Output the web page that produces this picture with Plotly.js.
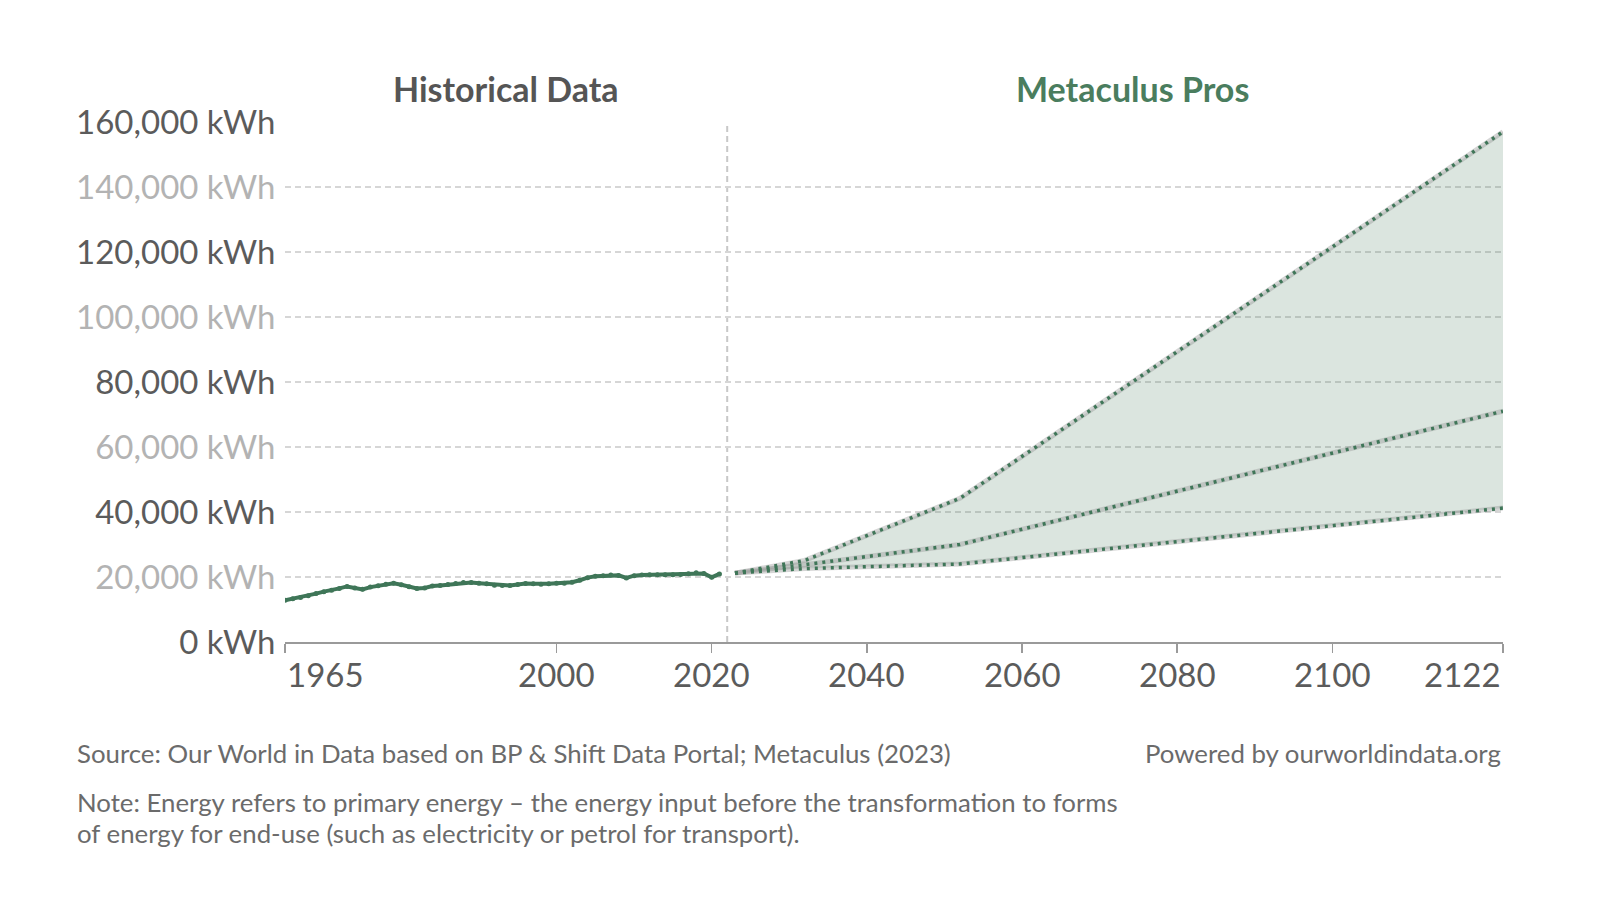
<!DOCTYPE html>
<html>
<head>
<meta charset="utf-8">
<script src="https://cdn.plot.ly/plotly-3.0.1.min.js"></script>
<style>
html,body{margin:0;padding:0;background:#fff;}
#chart{width:1600px;height:909px;}
</style>
</head>
<body>
<div id="chart"></div>
<script>
// ---- Data ----
const histYears = [1965,1966,1967,1968,1969,1970,1971,1972,1973,1974,1975,1976,1977,1978,1979,1980,1981,1982,1983,1984,1985,1986,1987,1988,1989,1990,1991,1992,1993,1994,1995,1996,1997,1998,1999,2000,2001,2002,2003,2004,2005,2006,2007,2008,2009,2010,2011,2012,2013,2014,2015,2016,2017,2018,2019,2020,2021];
const histValues = [12820,13300,13700,14200,14900,15500,15900,16500,17100,16600,16200,16900,17300,17800,18100,17600,17000,16500,16600,17200,17400,17700,18000,18300,18300,18100,17900,17500,17400,17400,17700,18000,17900,17800,17900,18100,18100,18400,19000,19800,20200,20400,20600,20500,19700,20400,20600,20700,20700,20700,20700,20800,21000,21300,21100,19900,20950];

const projYears = [2023, 2032, 2052, 2122];
const projUpper = [21200, 25100, 44200, 157000];
const projMedian = [21200, 23800, 30000, 71000];
const projLower = [21200, 22600, 24000, 41200];

const yTickVals = [0,20000,40000,60000,80000,100000,120000,140000,160000];
const yTickLabels = ["0 kWh","20,000 kWh","40,000 kWh","60,000 kWh","80,000 kWh","100,000 kWh","120,000 kWh","140,000 kWh","160,000 kWh"];
const xTickVals = [1965,2000,2020,2040,2060,2080,2100,2122];
const xTickLabels = ["1965","2000","2020","2040","2060","2080","2100","2122"];
const forecastStart = 2022;

// ---- Styles ----
const green = "#3f7658";
const halo = "rgba(150,150,150,0.4)";
const darkText = "#5b5b5b";
const lightText = "#b3b3b3";

const yTickText = yTickLabels.map((t,i)=>{
  const c = (i % 2 === 0) ? darkText : lightText;
  return '<span style="color:' + c + '">' + t + '</span>';
});

const dotDash = "3px,5px";
const traces = [
  {x: projYears, y: projLower, mode:"lines", line:{color:halo, width:5}, hoverinfo:"skip", showlegend:false},
  {x: projYears, y: projUpper, mode:"lines", fill:"tonexty", fillcolor:"rgba(74,125,95,0.2)", line:{color:halo, width:5}, hoverinfo:"skip", showlegend:false},
  {x: projYears, y: projMedian, mode:"lines", line:{color:halo, width:5}, hoverinfo:"skip", showlegend:false},
  {x: projYears, y: projLower, mode:"lines", line:{color:green, width:3.5, dash:dotDash}, showlegend:false},
  {x: projYears, y: projMedian, mode:"lines", line:{color:green, width:3.5, dash:dotDash}, showlegend:false},
  {x: projYears, y: projUpper, mode:"lines", line:{color:green, width:3.5, dash:dotDash}, showlegend:false},
  {x: histYears, y: histValues, mode:"lines+markers", line:{color:green, width:4, shape:"linear"},
   marker:{color:green, size:5}, showlegend:false}
];

const annotations = xTickVals.map((v,i)=>({
  x: v, xref:"x", y: 0, yref:"paper", yanchor:"top",
  xanchor: i === 0 ? "left" : (i === xTickVals.length-1 ? "right" : "center"),
  yshift: -10, showarrow:false, text: xTickLabels[i],
  font:{family:"Lato", size:33, color:darkText}
}));

const W = 1600, H = 909, mL = 285, mR = 97, mT = 122, mB = 267;
const plotH = H - mT - mB;
function py(pix){ return (H - mB - pix) / plotH; } // pixel y -> paper y
function px(pix){ return (pix - mL) / (W - mL - mR); }

annotations.push(
  {x: 1993.5, xref:"x", y: py(88), yref:"paper", yanchor:"middle", xanchor:"center", showarrow:false,
   text:"<b>Historical Data</b>", font:{family:"Lato", size:34, color:"#555555"}},
  {x: 2074.2, xref:"x", y: py(88), yref:"paper", yanchor:"middle", xanchor:"center", showarrow:false,
   text:"<b>Metaculus Pros</b>", font:{family:"Lato", size:34, color:"#4a7d5e"}}
);

const footSize = 25.8;
annotations.push(
  {x: px(75), xref:"paper", y: py(753), yref:"paper", xanchor:"left", yanchor:"middle", showarrow:false,
   text:"Source: Our World in Data based on BP &amp; Shift Data Portal; Metaculus (2023)",
   font:{family:"Lato", size:footSize, color:"#6b6b6b"}},
  {x: px(1503), xref:"paper", y: py(753), yref:"paper", xanchor:"right", yanchor:"middle", showarrow:false,
   text:"Powered by ourworldindata.org",
   font:{family:"Lato", size:footSize, color:"#6b6b6b"}},
  {x: px(75), xref:"paper", y: py(802), yref:"paper", xanchor:"left", yanchor:"middle", showarrow:false,
   text:"Note: Energy refers to primary energy – the energy input before the transformation to forms",
   font:{family:"Lato", size:footSize, color:"#6b6b6b"}},
  {x: px(75), xref:"paper", y: py(833), yref:"paper", xanchor:"left", yanchor:"middle", showarrow:false,
   text:"of energy for end-use (such as electricity or petrol for transport).",
   font:{family:"Lato", size:footSize, color:"#6b6b6b"}}
);

const layout = {
  width: W, height: H,
  margin:{l:mL, r:mR, t:mT, b:mB, pad:0},
  paper_bgcolor:"#ffffff", plot_bgcolor:"#ffffff",
  font:{family:"Lato", color:darkText},
  showlegend:false,
  xaxis:{
    range:[1965,2122], tickvals:xTickVals, ticktext:xTickVals.map(()=>""),
    showticklabels:false, ticks:"outside", ticklen:9, tickwidth:1.5, tickcolor:"#9a9a9a",
    showgrid:false, zeroline:false, showline:true, linecolor:"#9a9a9a", linewidth:2,
    fixedrange:true
  },
  yaxis:{
    range:[0,160000], tickvals:yTickVals, ticktext:yTickText,
    ticks:"outside", ticklen:2, tickcolor:"rgba(0,0,0,0)",
    tickfont:{family:"Lato", size:33, color:darkText},
    showgrid:true, gridcolor:"#d6d6d6", gridwidth:1.5, griddash:"6px,4px",
    zeroline:false, showline:false, fixedrange:true
  },
  shapes:[
    {type:"line", xref:"x", yref:"paper", x0:forecastStart, x1:forecastStart, y0:0, y1:1,
     line:{color:"#c8c8c8", width:2, dash:"6px,4px"}, layer:"below"}
  ],
  annotations: annotations
};

Plotly.newPlot("chart", traces, layout, {displayModeBar:false, staticPlot:true});
</script>
</body>
</html>
